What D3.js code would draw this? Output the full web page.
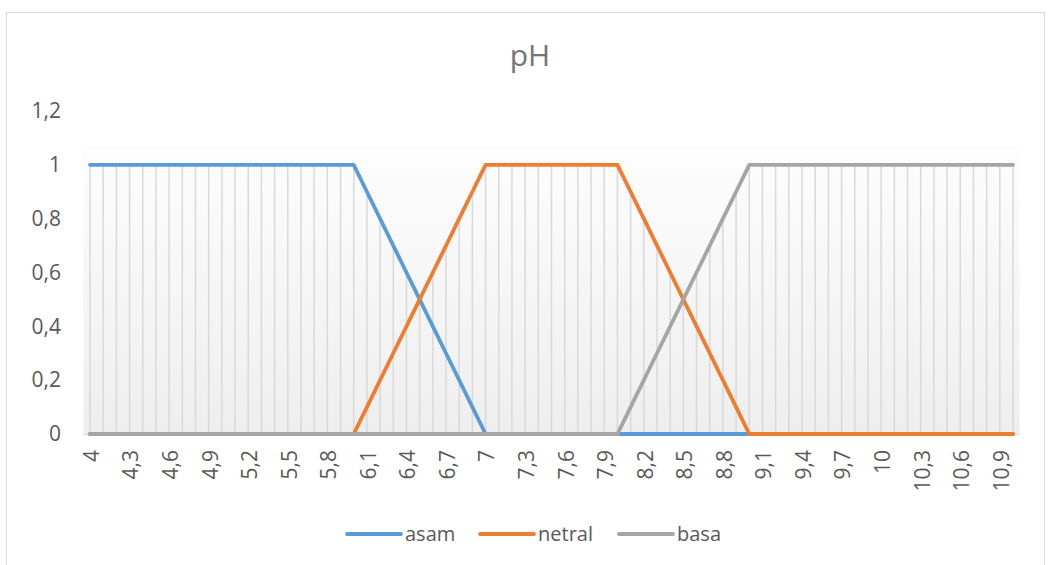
<!DOCTYPE html>
<html><head><meta charset="utf-8">
<script src="https://cdn.jsdelivr.net/npm/d3@7"></script>
<style>body{margin:0;background:#fff;} svg{display:block;}</style>
</head><body><svg id="c" width="1052" height="565"></svg>
<script>
const categories = ["4","4,1","4,2","4,3","4,4","4,5","4,6","4,7","4,8","4,9",
 "5","5,1","5,2","5,3","5,4","5,5","5,6","5,7","5,8","5,9",
 "6","6,1","6,2","6,3","6,4","6,5","6,6","6,7","6,8","6,9",
 "7","7,1","7,2","7,3","7,4","7,5","7,6","7,7","7,8","7,9",
 "8","8,1","8,2","8,3","8,4","8,5","8,6","8,7","8,8","8,9",
 "9","9,1","9,2","9,3","9,4","9,5","9,6","9,7","9,8","9,9",
 "10","10,1","10,2","10,3","10,4","10,5","10,6","10,7","10,8","10,9","11"];
const asam = [1,1,1,1,1,1,1,1,1,1, 1,1,1,1,1,1,1,1,1,1,
 1,0.9,0.8,0.7,0.6,0.5,0.4,0.3,0.2,0.1,
 0,0,0,0,0,0,0,0,0,0, 0,0,0,0,0,0,0,0,0,0,
 0,0,0,0,0,0,0,0,0,0, 0,0,0,0,0,0,0,0,0,0, 0];
const netral = [0,0,0,0,0,0,0,0,0,0, 0,0,0,0,0,0,0,0,0,0,
 0,0.1,0.2,0.3,0.4,0.5,0.6,0.7,0.8,0.9,
 1,1,1,1,1,1,1,1,1,1, 1,0.9,0.8,0.7,0.6,0.5,0.4,0.3,0.2,0.1,
 0,0,0,0,0,0,0,0,0,0, 0,0,0,0,0,0,0,0,0,0, 0];
const basa = [0,0,0,0,0,0,0,0,0,0, 0,0,0,0,0,0,0,0,0,0,
 0,0,0,0,0,0,0,0,0,0, 0,0,0,0,0,0,0,0,0,0,
 0,0.1,0.2,0.3,0.4,0.5,0.6,0.7,0.8,0.9,
 1,1,1,1,1,1,1,1,1,1, 1,1,1,1,1,1,1,1,1,1, 1];
const xTickLabels = ["4","4,3","4,6","4,9","5,2","5,5","5,8","6,1","6,4","6,7","7","7,3","7,6","7,9",
 "8,2","8,5","8,8","9,1","9,4","9,7","10","10,3","10,6","10,9"];
const yTicks = [0,0.2,0.4,0.6,0.8,1,1.2];
const seriesNames = ["asam","netral","basa"];
const seriesColors = ["#5b9bd5","#ed7d31","#a5a5a5"];
const seriesData = [asam, netral, basa];

const font = "'Open Sans', sans-serif";
const svg = d3.select("#c");
svg.append("rect").attr("x",6.5).attr("y",12.5).attr("width",1038).attr("height",560)
  .attr("fill","#fff").attr("stroke","#d9d9d9");

const x = d3.scalePoint().domain(categories).range([90,1013]);
const y = d3.scaleLinear().domain([0,1.2]).range([434,111]);
const step = x.step();

const defs = svg.append("defs");
const g = defs.append("linearGradient").attr("id","bg").attr("x1",0).attr("y1",0).attr("x2",0).attr("y2",1);
g.append("stop").attr("offset","0%").attr("stop-color","#fdfdfd");
g.append("stop").attr("offset","100%").attr("stop-color","#eeeeee");

svg.append("rect").attr("x",x(categories[0])-step/2).attr("y",y(1.07))
  .attr("width",x(categories[categories.length-1])-x(categories[0])+step)
  .attr("height",y(0)-y(1.07)+2).attr("fill","url(#bg)");

// high-low lines
svg.append("g").selectAll("line").data(categories).join("line")
  .attr("x1",d=>x(d)).attr("x2",d=>x(d))
  .attr("y1",(d,i)=>y(d3.max(seriesData,s=>s[i])))
  .attr("y2",(d,i)=>y(d3.min(seriesData,s=>s[i])))
  .attr("stroke","#d9d9d9").attr("stroke-width",1.5);

// axis line
svg.append("line").attr("x1",x(categories[0])-step/2).attr("x2",x(categories[categories.length-1])+step/2)
  .attr("y1",y(0)).attr("y2",y(0)).attr("stroke","#d9d9d9").attr("stroke-width",1);

// y labels
const yAxis = d3.axisLeft(y).tickValues(yTicks).tickSize(0).tickPadding(0)
  .tickFormat(d=>d3.format("")(+d.toFixed(1)).replace(".",","));
const ya = svg.append("g").attr("transform","translate(61,0)").call(yAxis);
ya.select(".domain").remove();
ya.selectAll("text").attr("font-family",font).attr("font-size",21).attr("fill","#595959");

// x labels
const xAxis = d3.axisBottom(x).tickValues(xTickLabels).tickSize(0).tickPadding(0);
const xa = svg.append("g").attr("transform",`translate(0,${y(0)})`).call(xAxis);
xa.select(".domain").remove();
xa.selectAll("text").attr("font-family",font).attr("font-size",21).attr("fill","#595959")
  .attr("transform","translate(1,16) rotate(-90)").attr("text-anchor","end").attr("dy","0.35em").attr("y",0).attr("x",0);

// lines
const line = d3.line().x((d,i)=>x(categories[i])).y(d=>y(d));
seriesData.forEach((s,k)=>{
  svg.append("path").datum(s).attr("d",line).attr("fill","none")
    .attr("stroke",seriesColors[k]).attr("stroke-width",3.8)
    .attr("stroke-linejoin","round").attr("stroke-linecap","round");
});

// title
svg.append("text").attr("x",530).attr("y",66).attr("text-anchor","middle")
  .attr("font-family",font).attr("font-size",30).attr("fill","#757575").text("pH");

// legend
const legX = [347,480,619];
seriesNames.forEach((n,k)=>{
  const lg = svg.append("g").attr("transform",`translate(${legX[k]},534)`);
  lg.append("line").attr("x1",0).attr("x2",54).attr("stroke",seriesColors[k]).attr("stroke-width",3.8).attr("stroke-linecap","round");
  lg.append("text").attr("x",58).attr("y",0).attr("dy","0.35em").attr("font-family",font).attr("font-size",20).attr("fill","#595959").text(n);
});
</script></body></html>
